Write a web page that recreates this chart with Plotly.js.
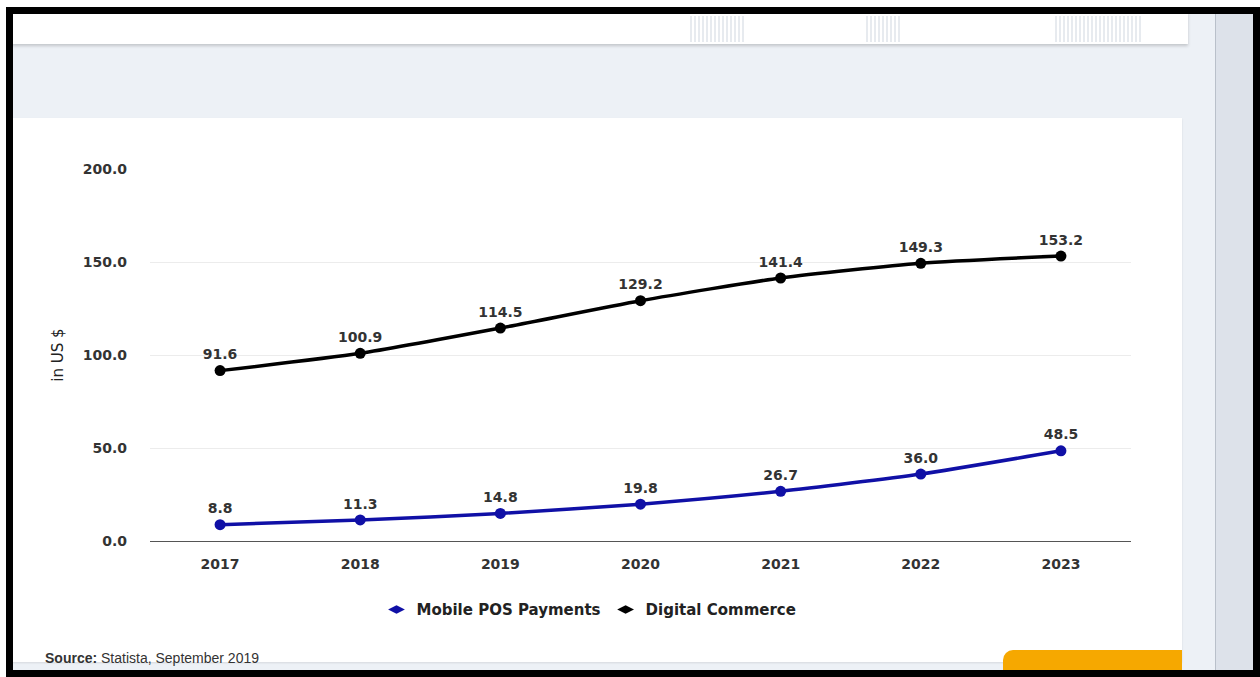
<!DOCTYPE html>
<html>
<head>
<meta charset="utf-8">
<script src="https://cdn.plot.ly/plotly-3.0.1.min.js"></script>
<style>
  html, body { margin: 0; padding: 0; background: #ffffff; }
  #page { position: relative; width: 1260px; height: 677px; overflow: hidden; background: #ffffff; }
  .abs { position: absolute; }
  #chart { position: absolute; left: 0; top: 0; width: 1260px; height: 677px; }
  #source { position: absolute; left: 45px; top: 650px; font-family: "Liberation Sans", Arial, sans-serif; font-size: 14px; color: #333; white-space: nowrap; }
</style>
</head>
<body>
<div id="page">
  <!-- page background -->
  <div class="abs" style="left:12px; top:12px; width:1242px; height:662px; background:#edf1f6;"></div>
  <!-- top white strip card -->
  <div class="abs" style="left:12px; top:12px; width:1176px; height:32px; background:#ffffff; box-shadow:0 2px 3px rgba(0,0,0,0.18);"></div>
  <div class="abs" style="left:690px; top:16px; width:56px; height:26px; background:repeating-linear-gradient(90deg,#cfd6df 0 2px,transparent 2px 4px); opacity:0.5;"></div>
  <div class="abs" style="left:866px; top:16px; width:34px; height:26px; background:repeating-linear-gradient(90deg,#cfd6df 0 2px,transparent 2px 4px); opacity:0.5;"></div>
  <div class="abs" style="left:1055px; top:16px; width:86px; height:26px; background:repeating-linear-gradient(90deg,#cfd6df 0 2px,transparent 2px 4px); opacity:0.5;"></div>
  <!-- right gutter -->
  <div class="abs" style="left:1215px; top:12px; width:40px; height:662px; background:#dde2ea; border-left:1px solid #b9c0ca;"></div>
  <!-- main white card -->
  <div class="abs" style="left:12px; top:118px; width:1170px; height:544px; background:#ffffff; box-shadow:0 1px 2px rgba(0,0,0,0.10);"></div>
  <!-- orange button -->
  <div class="abs" style="left:1003px; top:650px; width:179px; height:24px; background:#f6a800; border-top-left-radius:10px;"></div>
  <!-- black frame -->
  <div class="abs" style="left:6px; top:7px; width:1240px; height:656px; border:7px solid #000;"></div>

  <div id="chart"></div>
  <div id="source"><b>Source:</b> Statista, September 2019</div>
</div>
<script>
  const years = ["2017", "2018", "2019", "2020", "2021", "2022", "2023"];
  const mobilePOS = [8.8, 11.3, 14.8, 19.8, 26.7, 36.0, 48.5];
  const digitalCommerce = [91.6, 100.9, 114.5, 129.2, 141.4, 149.3, 153.2];
  const yTicks = [0, 50, 100, 150, 200];
  const yTickLabels = ["0.0", "50.0", "100.0", "150.0", "200.0"];
  const seriesNames = ["Mobile POS Payments", "Digital Commerce"];
  const seriesColors = ["#1010a6", "#000000"];

  const labelFont = { family: "DejaVu Sans, sans-serif", size: 14, color: "#333333", weight: "bold" };

  function seriesTrace(values, name, color) {
    return {
      type: "scatter",
      mode: "lines+markers+text",
      x: years,
      y: values,
      name: name,
      showlegend: false,
      line: { color: color, width: 3.5, shape: "spline", smoothing: 0.6 },
      marker: { color: color, size: 11 },
      text: values.map(v => v.toFixed(1)),
      textposition: "top center",
      textfont: labelFont,
      cliponaxis: false,
      hoverinfo: "x+y+name"
    };
  }
  function legendTrace(name, color) {
    return {
      type: "scatter",
      mode: "markers",
      x: [null],
      y: [null],
      name: name,
      showlegend: true,
      marker: { color: color, size: 12, symbol: "diamond-wide" }
    };
  }

  const data = [
    seriesTrace(mobilePOS, seriesNames[0], seriesColors[0]),
    seriesTrace(digitalCommerce, seriesNames[1], seriesColors[1]),
    legendTrace(seriesNames[0], seriesColors[0]),
    legendTrace(seriesNames[1], seriesColors[1])
  ];

  const layout = {
    width: 1260,
    height: 677,
    margin: { l: 150, r: 129, t: 169, b: 136, pad: 0 },
    paper_bgcolor: "rgba(0,0,0,0)",
    plot_bgcolor: "rgba(0,0,0,0)",
    showlegend: true,
    legend: {
      orientation: "h",
      x: 0.4475,
      xanchor: "center",
      y: -0.185,
      yanchor: "middle",
      font: { family: "DejaVu Sans, sans-serif", size: 15, color: "#222222", weight: "bold" },
      itemwidth: 30,
      traceorder: "normal",
      bgcolor: "rgba(0,0,0,0)"
    },
    xaxis: {
      type: "category",
      range: [-0.5, 6.5],
      showgrid: false,
      zeroline: false,
      showline: true,
      linecolor: "#555555",
      linewidth: 1,
      ticks: "",
      ticklabelstandoff: 10,
      tickfont: labelFont,
      fixedrange: true
    },
    yaxis: {
      range: [0, 200],
      tickvals: yTicks,
      ticktext: yTickLabels,
      showgrid: true,
      gridcolor: "#ececec",
      gridwidth: 1,
      zeroline: false,
      showline: false,
      ticks: "",
      ticklabelstandoff: 22,
      tickfont: labelFont,
      fixedrange: true
    },
    annotations: [{
      text: "in US $",
      xref: "paper",
      yref: "paper",
      x: -0.094,
      y: 0.5,
      xanchor: "center",
      yanchor: "middle",
      textangle: -90,
      showarrow: false,
      font: { family: "DejaVu Sans, sans-serif", size: 15, color: "#222222" }
    }]
  };

  Plotly.newPlot("chart", data, layout, { displayModeBar: false });
</script>
</body>
</html>
